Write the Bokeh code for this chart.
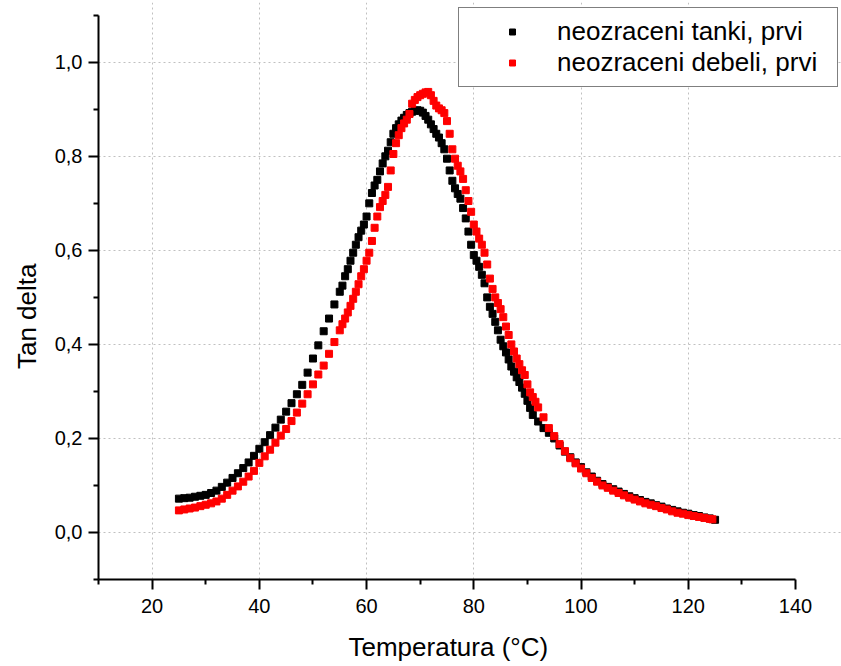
from bokeh.plotting import figure
from bokeh.models import FixedTicker, Range1d, Legend, LegendItem
from bokeh.embed import file_html
from bokeh.resources import INLINE

# --- data ---
temp_tanki = [25, 26, 27, 28, 29, 30, 31, 32, 33, 34, 35, 36, 37, 38, 39, 40,
              41, 42, 43, 44, 45, 46, 47, 48, 49, 50, 51, 52, 53, 54, 55,
              55.5, 56, 56.5, 57, 57.5, 58, 58.5, 59, 59.5, 60, 60.5, 61, 61.5,
              62, 62.5, 63, 63.5, 64, 64.5, 65, 65.5, 66, 66.5, 67, 67.5, 68,
              68.5, 69, 69.5, 70, 70.5, 71, 71.5, 72, 72.5, 73, 73.5, 74, 74.5,
              75, 75.5, 76, 76.5, 77, 77.5, 78, 78.5, 79, 79.5, 80, 80.5, 81,
              81.5, 82, 82.5, 83, 83.5, 84, 84.5, 85, 85.5, 86, 86.5, 87, 87.5,
              88, 88.5, 89, 89.5, 90, 90.5, 91, 92, 93, 94, 95, 96, 97, 98, 99,
              100, 101, 102, 103, 104, 105, 106, 107, 108, 109, 110, 111, 112,
              113, 114, 115, 116, 117, 118, 119, 120, 121, 122, 123, 124, 125]
tan_tanki = [0.072, 0.073, 0.074, 0.076, 0.078, 0.080, 0.084, 0.089, 0.097, 0.106,
             0.116, 0.126, 0.137, 0.149, 0.163, 0.178, 0.192, 0.207, 0.223, 0.240,
             0.257, 0.275, 0.294, 0.314, 0.340, 0.370, 0.398, 0.428, 0.455, 0.485,
             0.512, 0.525, 0.545, 0.560, 0.578, 0.595, 0.612, 0.628, 0.642, 0.655,
             0.672, 0.700, 0.722, 0.738, 0.750, 0.768, 0.785, 0.800, 0.812, 0.830,
             0.848, 0.860, 0.868, 0.876, 0.882, 0.888, 0.892, 0.895, 0.897, 0.898,
             0.897, 0.893, 0.886, 0.878, 0.868, 0.858, 0.848, 0.840, 0.828, 0.815,
             0.795, 0.770, 0.748, 0.732, 0.720, 0.710, 0.690, 0.668, 0.640, 0.612,
             0.590, 0.578, 0.565, 0.548, 0.530, 0.500, 0.480, 0.465, 0.448, 0.430,
             0.410, 0.396, 0.383, 0.368, 0.353, 0.342, 0.330, 0.320, 0.308, 0.295,
             0.280, 0.265, 0.250, 0.236, 0.222, 0.212, 0.200, 0.185, 0.172, 0.160,
             0.149, 0.139, 0.128, 0.119, 0.110, 0.103, 0.097, 0.092, 0.087, 0.082,
             0.077, 0.073, 0.069, 0.065, 0.062, 0.058, 0.055, 0.051, 0.048, 0.045,
             0.042, 0.040, 0.037, 0.035, 0.032, 0.030, 0.027]

temp_debeli = [25, 26, 27, 28, 29, 30, 31, 32, 33, 34, 35, 36, 37, 38, 39, 40,
               41, 42, 43, 44, 45, 46, 47, 48, 49, 50, 51, 52, 53, 54, 55,
               55.5, 56, 56.5, 57, 57.5, 58, 58.5, 59, 59.5, 60, 60.5, 61, 61.5,
               62, 62.5, 63, 63.5, 64, 64.5, 65, 65.5, 66, 66.5, 67, 67.5, 68,
               68.5, 69, 69.5, 70, 70.5, 71, 71.5, 72, 72.5, 73, 73.5, 74, 74.5,
               75, 75.5, 76, 76.5, 77, 77.5, 78, 78.5, 79, 79.5, 80, 80.5, 81,
               81.5, 82, 82.5, 83, 83.5, 84, 84.5, 85, 85.5, 86, 86.5, 87, 87.5,
               88, 88.5, 89, 89.5, 90, 90.5, 91, 91.5, 92, 93, 94, 95, 96, 97, 98,
               99, 100, 101, 102, 103, 104, 105, 106, 107, 108, 109, 110, 111, 112,
               113, 114, 115, 116, 117, 118, 119, 120, 121, 122, 123, 124, 124.5]
tan_debeli = [0.047, 0.049, 0.051, 0.053, 0.056, 0.059, 0.062, 0.066, 0.072, 0.080,
              0.089, 0.098, 0.108, 0.119, 0.131, 0.148, 0.162, 0.176, 0.191, 0.206,
              0.220, 0.237, 0.255, 0.274, 0.294, 0.315, 0.336, 0.355, 0.380, 0.405,
              0.430, 0.443, 0.455, 0.468, 0.482, 0.497, 0.512, 0.528, 0.545, 0.560,
              0.578, 0.595, 0.620, 0.648, 0.672, 0.692, 0.705, 0.718, 0.735, 0.770,
              0.805, 0.828, 0.845, 0.860, 0.870, 0.878, 0.890, 0.912, 0.920, 0.926,
              0.930, 0.933, 0.936, 0.937, 0.930, 0.918, 0.908, 0.902, 0.898, 0.892,
              0.875, 0.848, 0.815, 0.795, 0.780, 0.768, 0.752, 0.728, 0.705, 0.682,
              0.655, 0.640, 0.625, 0.612, 0.595, 0.570, 0.540, 0.518, 0.500, 0.488,
              0.475, 0.458, 0.438, 0.420, 0.400, 0.385, 0.370, 0.358, 0.345, 0.335,
              0.315, 0.298, 0.288, 0.278, 0.266, 0.245, 0.222, 0.205, 0.188, 0.173,
              0.158, 0.147, 0.136, 0.126, 0.116, 0.108, 0.100, 0.095, 0.089, 0.084,
              0.079, 0.074, 0.070, 0.066, 0.062, 0.059, 0.056, 0.052, 0.049, 0.045,
              0.042, 0.040, 0.037, 0.035, 0.033, 0.031, 0.029, 0.028]

x_ticks = [20, 40, 60, 80, 100, 120, 140]
x_tick_labels = ["20", "40", "60", "80", "100", "120", "140"]
x_minor_ticks = [10, 30, 50, 70, 90, 110, 130]
x_grid_ticks = [20, 40, 60, 80, 100, 120]
y_ticks = [0.0, 0.2, 0.4, 0.6, 0.8, 1.0]
y_tick_labels = ["0,0", "0,2", "0,4", "0,6", "0,8", "1,0"]
y_minor_ticks = [-0.1, 0.1, 0.3, 0.5, 0.7, 0.9, 1.1]
series_labels = ["neozraceni tanki, prvi", "neozraceni debeli, prvi"]
x_title = "Temperatura (°C)"
y_title = "Tan delta"

FONT = "Liberation Sans"
NBSP = "\u00a0"

# frame is widened to the right / top so the legend (which overhangs the axes
# in the reference) is not clipped; axis lines are bounded to the data ranges.
p = figure(width=841, height=664, x_range=Range1d(10, 148.58), y_range=Range1d(-0.1, 1.1272),
           output_backend="svg", toolbar_location=None,
           min_border_left=98, min_border_right=0, min_border_top=2, min_border_bottom=84)
p.outline_line_color = None
p.background_fill_color = "white"
p.border_fill_color = "white"

r1 = p.scatter(temp_tanki, tan_tanki, marker="square", size=7, color="black")
r2 = p.scatter(temp_debeli, tan_debeli, marker="square", size=7, color="#ff0000")

for ax in (p.xaxis[0], p.yaxis[0]):
    ax.axis_line_width = 2
    ax.axis_line_color = "black"
    ax.major_tick_line_width = 2
    ax.minor_tick_line_width = 2
    ax.major_tick_out = 10
    ax.major_tick_in = 0
    ax.minor_tick_out = 5
    ax.minor_tick_in = 0
    ax.major_label_text_font = FONT
    ax.major_label_text_font_size = "20px"
    ax.major_label_text_color = "black"
    ax.axis_label_text_font = FONT
    ax.axis_label_text_font_size = "26px"
    ax.axis_label_text_font_style = "normal"
    ax.axis_label_text_color = "black"

p.xaxis.bounds = (10, 140)
p.yaxis.bounds = (-0.1, 1.1)
p.xaxis.ticker = FixedTicker(ticks=x_ticks, minor_ticks=x_minor_ticks)
p.xaxis.major_label_overrides = dict(zip(x_ticks, x_tick_labels))
p.yaxis.ticker = FixedTicker(ticks=y_ticks, minor_ticks=y_minor_ticks)
p.yaxis.major_label_overrides = dict(zip(y_ticks, y_tick_labels))
# trailing no-break spaces re-centre the titles on the bounded axes
p.xaxis.axis_label = x_title + NBSP * 6
p.yaxis.axis_label = y_title + NBSP * 7
p.xaxis.major_label_standoff = 9
p.yaxis.major_label_standoff = 6
p.xaxis.axis_label_standoff = 16
p.yaxis.axis_label_standoff = 10

p.xgrid.ticker = FixedTicker(ticks=x_grid_ticks)
p.ygrid.ticker = FixedTicker(ticks=y_ticks)
p.xgrid.bounds = (-0.1, 1.1)
p.ygrid.bounds = (10, 140)
for g in (p.xgrid[0], p.ygrid[0]):
    g.grid_line_color = "#c0c0c0"
    g.grid_line_dash = "2 3"
    g.grid_line_width = 1

legend = Legend(items=[LegendItem(label=series_labels[0], renderers=[r1]),
                       LegendItem(label=series_labels[1], renderers=[r2])],
                location=(360, 492))
legend.padding = 8
legend.spacing = 0
legend.margin = 0
legend.glyph_width = 90
legend.glyph_height = 15
legend.label_standoff = 0
legend.label_height = 31
legend.label_width = 272
legend.border_line_color = "black"
legend.border_line_width = 1
legend.background_fill_color = "white"
legend.background_fill_alpha = 1
legend.label_text_font = FONT
legend.label_text_font_size = "26px"
legend.label_text_color = "black"
p.add_layout(legend)

open("out.html", "w").write(file_html(p, INLINE))
